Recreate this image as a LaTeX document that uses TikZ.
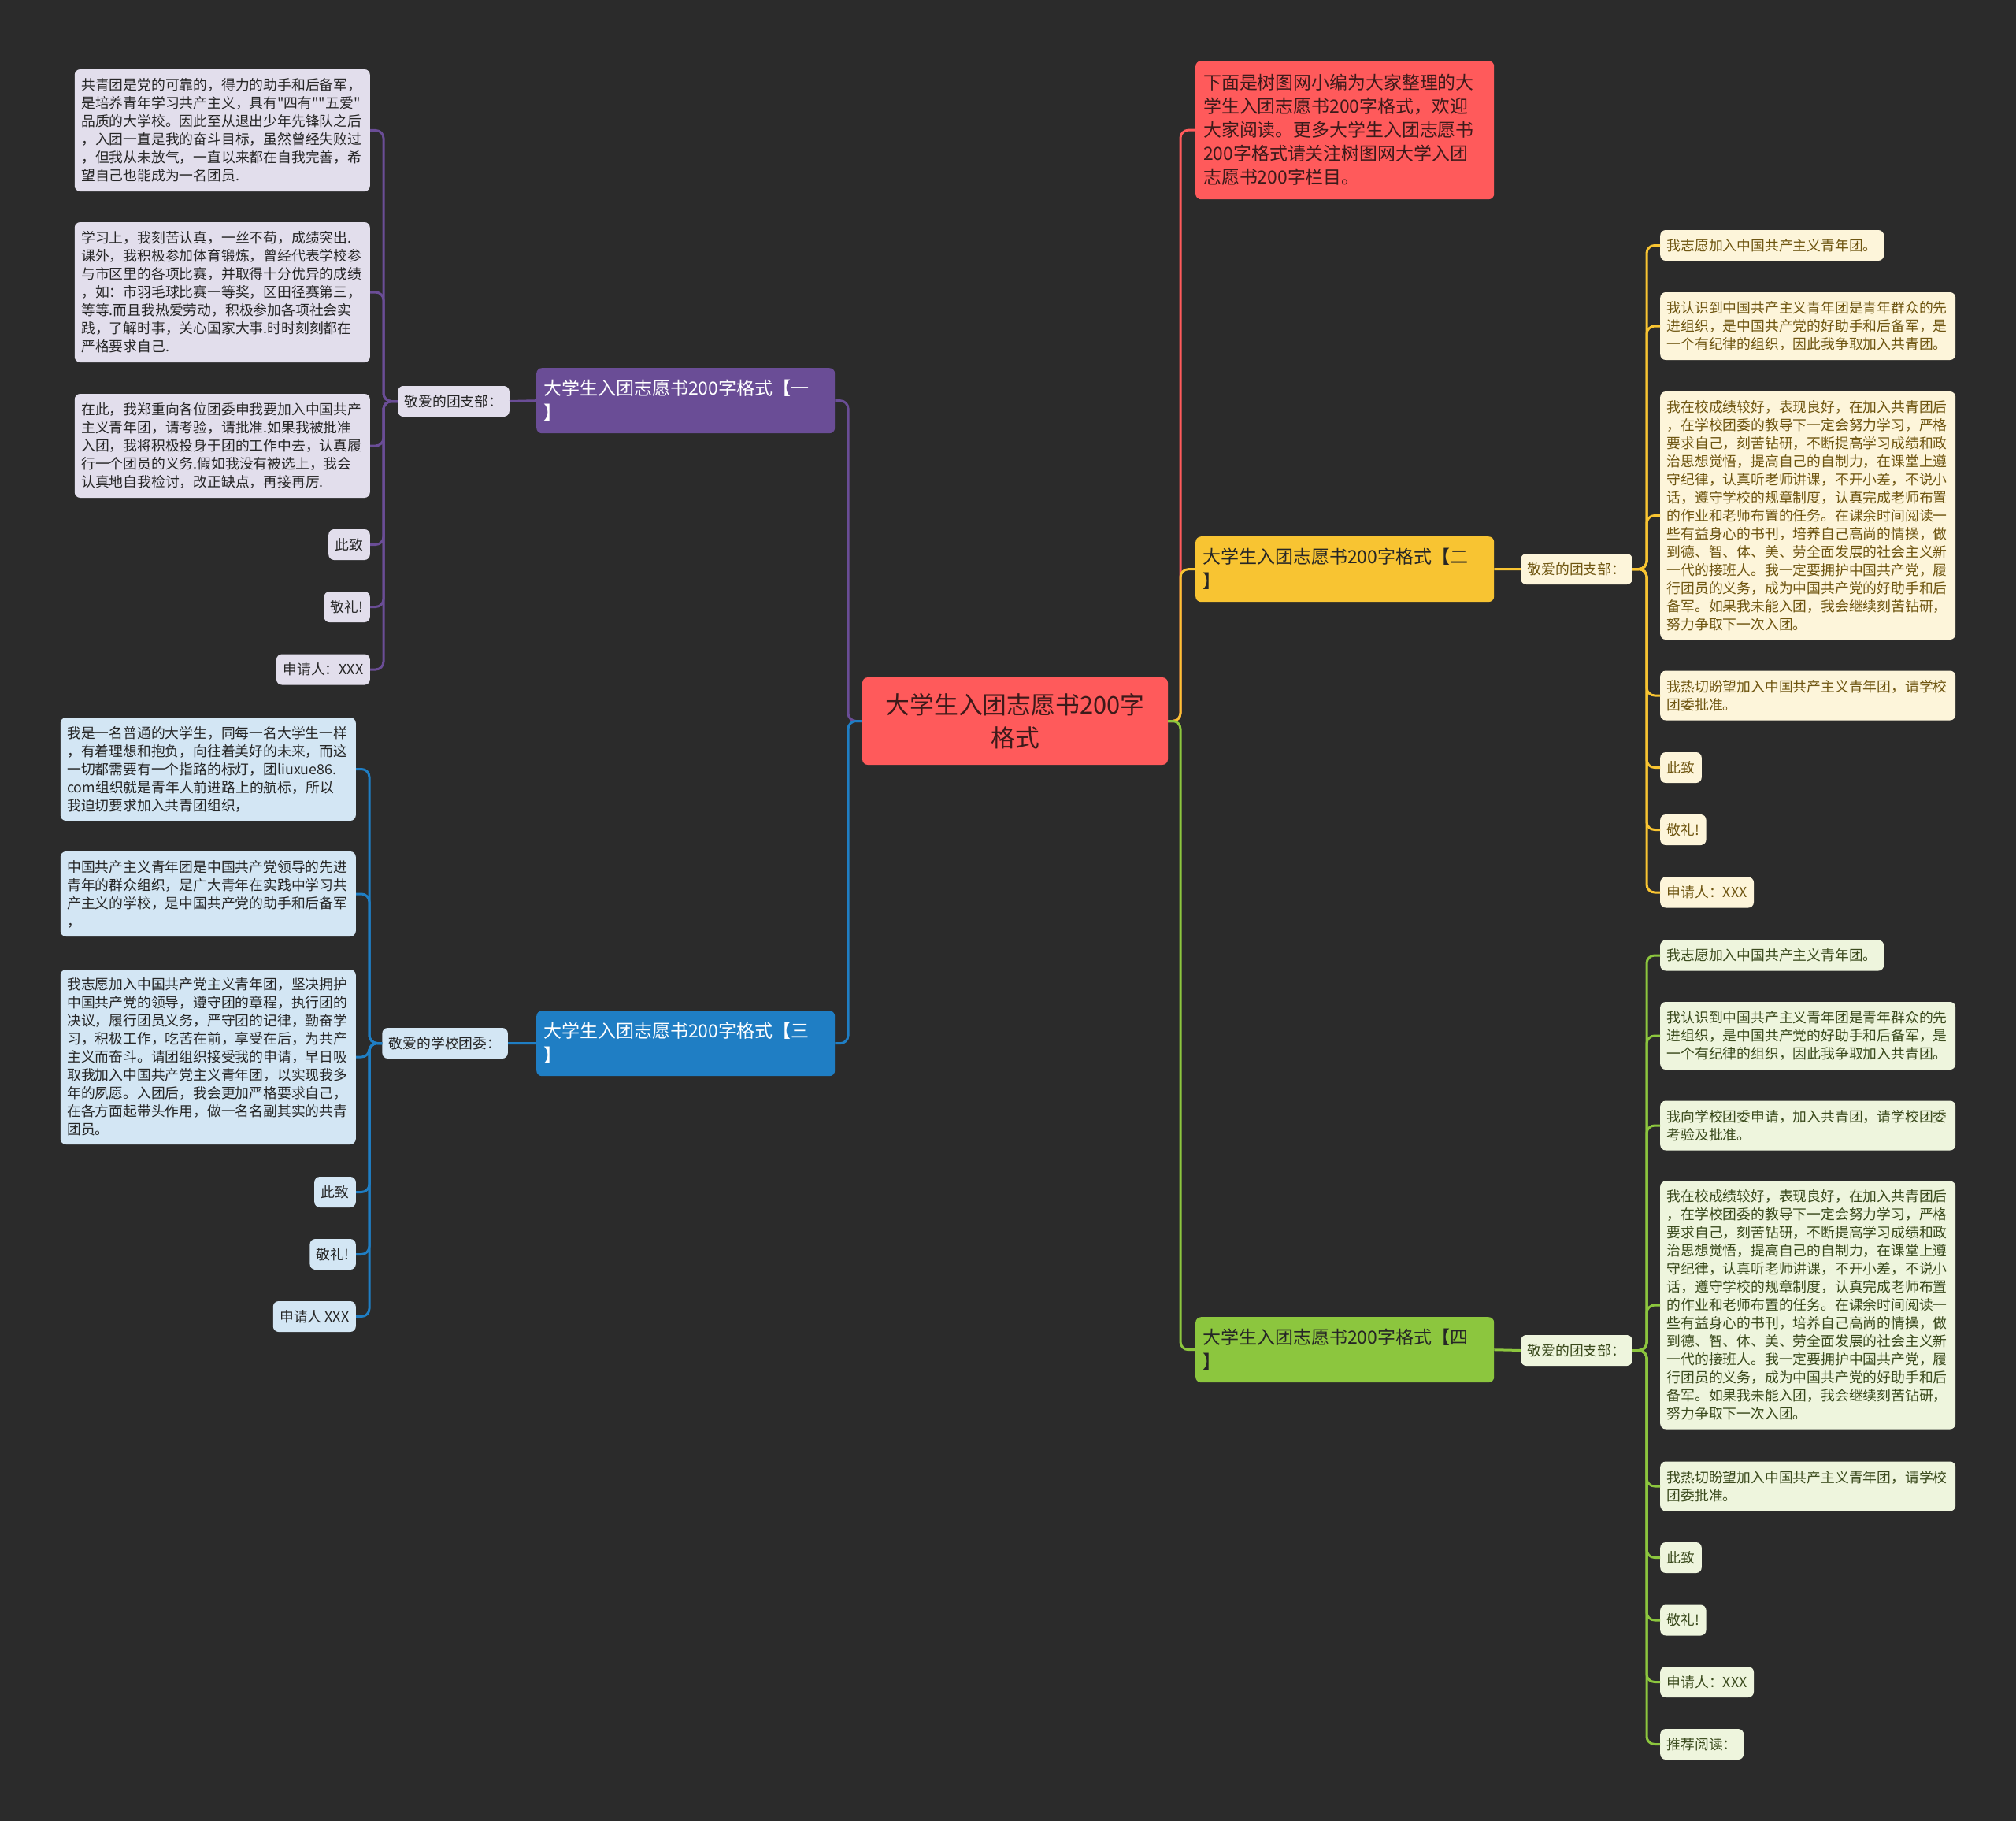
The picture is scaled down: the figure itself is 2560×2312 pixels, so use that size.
\documentclass[tikz,border=0pt]{standalone}
\usepackage{fontspec}
\setmainfont{Noto Sans CJK SC}[Ligatures=TeXOff]
\definecolor{bgc}{HTML}{2B2B2B}
\definecolor{pB}{HTML}{6A4D96}
\definecolor{pL}{HTML}{E2DEEC}
\definecolor{bB}{HTML}{1F7EC4}
\definecolor{bL}{HTML}{D3E6F4}
\definecolor{yB}{HTML}{F8C432}
\definecolor{yL}{HTML}{FDF5DA}
\definecolor{yT}{HTML}{6E5510}
\definecolor{gB}{HTML}{8CC63E}
\definecolor{gL}{HTML}{EEF5DD}
\definecolor{gT}{HTML}{3A4A1C}
\definecolor{rB}{HTML}{FF5A5B}
\definecolor{rT}{HTML}{3D1A1A}
\definecolor{dT}{HTML}{262626}
\newcommand{\leaffont}{\fontsize{17.8}{23}\selectfont}
\newcommand{\brfont}{\fontsize{23}{31}\selectfont}
\tikzset{
  box/.style={rounded corners=7pt, inner xsep=8.5pt, inner ysep=4pt, align=left, font=\leaffont, minimum height=39pt},
  pleaf/.style={box, fill=pL, text=dT},
  bleaf/.style={box, fill=bL, text=dT},
  yleaf/.style={box, fill=yL, text=yT},
  gleaf/.style={box, fill=gL, text=gT},
  wide/.style={text width=358pt},
  branch/.style={rounded corners=7pt, inner xsep=9pt, align=left, font=\brfont, text width=361pt, minimum height=83pt},
  conn/.style={line width=3pt, rounded corners=10pt},
}
\begin{document}
\begin{tikzpicture}[x=1pt,y=-1pt]
\fill[bgc] (0,0) rectangle (2560,2312);
\useasboundingbox (0,0) rectangle (2560,2312);

% centre
\node[rounded corners=7pt, fill=rB, text=rT, font=\fontsize{30.8}{41.5}\selectfont, align=center, minimum width=388pt, minimum height=111pt, inner sep=0pt] (ctr) at (1289,915.5) {大学生入团志愿书200字\\格式};

% branches
\node[branch, fill=pB, text=white, anchor=north west] (bP) at (681,467) {大学生入团志愿书200字格式【一\\】};
\node[branch, fill=bB, text=white, anchor=north west] (bBl) at (681,1283) {大学生入团志愿书200字格式【三\\】};
\node[branch, fill=yB, text=dT, anchor=north west] (bY) at (1518,681) {大学生入团志愿书200字格式【二\\】};
\node[branch, fill=gB, text=dT, anchor=north west] (bG) at (1518,1672) {大学生入团志愿书200字格式【四\\】};
\node[rounded corners=7pt, inner xsep=10pt, align=left, font=\fontsize{22.9}{30}\selectfont, text width=359pt, minimum height=176pt, fill=rB, text=rT, anchor=north west] (top) at (1518,77) {下面是树图网小编为大家整理的大\\学生入团志愿书200字格式，欢迎\\大家阅读。更多大学生入团志愿书\\200字格式请关注树图网大学入团\\志愿书200字栏目。};

% labels
\node[pleaf, anchor=east] (lP) at (647,509.5) {敬爱的团支部：};
\node[bleaf, anchor=east] (lB) at (645,1324.5) {敬爱的学校团委：};
\node[yleaf, anchor=west] (lY) at (1931,722.5) {敬爱的团支部：};
\node[gleaf, anchor=west] (lG) at (1931,1714.5) {敬爱的团支部：};

% purple leaves
\node[pleaf, wide, anchor=east, minimum height=155pt] (p1) at (470,165.5) {共青团是党的可靠的，得力的助手和后备军，\\是培养青年学习共产主义，具有"四有""五爱"\\品质的大学校。因此至从退出少年先锋队之后\\，入团一直是我的奋斗目标，虽然曾经失败过\\，但我从未放气，一直以来都在自我完善，希\\望自己也能成为一名团员.};
\node[pleaf, wide, anchor=east, minimum height=178pt] (p2) at (470,371) {学习上，我刻苦认真，一丝不苟，成绩突出.\\课外，我积极参加体育锻炼，曾经代表学校参\\与市区里的各项比赛，并取得十分优异的成绩\\，如：市羽毛球比赛一等奖，区田径赛第三，\\等等.而且我热爱劳动，积极参加各项社会实\\践，了解时事，关心国家大事.时时刻刻都在\\严格要求自己.};
\node[pleaf, wide, anchor=east, minimum height=132pt] (p3) at (470,566) {在此，我郑重向各位团委申我要加入中国共产\\主义青年团，请考验，请批准.如果我被批准\\入团，我将积极投身于团的工作中去，认真履\\行一个团员的义务.假如我没有被选上，我会\\认真地自我检讨，改正缺点，再接再厉.};
\node[pleaf, anchor=east] (p4) at (470,691.5) {此致};
\node[pleaf, anchor=east] (p5) at (470,770.5) {敬礼!};
\node[pleaf, anchor=east] (p6) at (470,850) {申请人：XXX};

% blue leaves
\node[bleaf, wide, anchor=east, minimum height=131pt] (q1) at (452,976.5) {我是一名普通的大学生，同每一名大学生一样\\，有着理想和抱负，向往着美好的未来，而这\\一切都需要有一个指路的标灯，团liuxue86.\\com组织就是青年人前进路上的航标，所以\\我迫切要求加入共青团组织，};
\node[bleaf, wide, anchor=east, minimum height=108pt] (q2) at (452,1135) {中国共产主义青年团是中国共产党领导的先进\\青年的群众组织，是广大青年在实践中学习共\\产主义的学校，是中国共产党的助手和后备军\\，};
\node[bleaf, wide, anchor=east, minimum height=222pt] (q3) at (452,1342) {我志愿加入中国共产党主义青年团，坚决拥护\\中国共产党的领导，遵守团的章程，执行团的\\决议，履行团员义务，严守团的记律，勤奋学\\习，积极工作，吃苦在前，享受在后，为共产\\主义而奋斗。请团组织接受我的申请，早日吸\\取我加入中国共产党主义青年团，以实现我多\\年的夙愿。入团后，我会更加严格要求自己，\\在各方面起带头作用，做一名名副其实的共青\\团员。};
\node[bleaf, anchor=east] (q4) at (452,1513.5) {此致};
\node[bleaf, anchor=east] (q5) at (452,1592.5) {敬礼!};
\node[bleaf, anchor=east] (q6) at (452,1671.5) {申请人 XXX};

% yellow leaves
\node[yleaf, anchor=west] (y1) at (2108,311.5) {我志愿加入中国共产主义青年团。};
\node[yleaf, wide, anchor=west, minimum height=86pt] (y2) at (2108,414) {我认识到中国共产主义青年团是青年群众的先\\进组织，是中国共产党的好助手和后备军，是\\一个有纪律的组织，因此我争取加入共青团。};
\node[yleaf, wide, anchor=west, minimum height=315pt] (y3) at (2108,654.5) {我在校成绩较好，表现良好，在加入共青团后\\，在学校团委的教导下一定会努力学习，严格\\要求自己，刻苦钻研，不断提高学习成绩和政\\治思想觉悟，提高自己的自制力，在课堂上遵\\守纪律，认真听老师讲课，不开小差，不说小\\话，遵守学校的规章制度，认真完成老师布置\\的作业和老师布置的任务。在课余时间阅读一\\些有益身心的书刊，培养自己高尚的情操，做\\到德、智、体、美、劳全面发展的社会主义新\\一代的接班人。我一定要拥护中国共产党，履\\行团员的义务，成为中国共产党的好助手和后\\备军。如果我未能入团，我会继续刻苦钻研，\\努力争取下一次入团。};
\node[yleaf, wide, anchor=west, minimum height=63pt] (y4) at (2108,883) {我热切盼望加入中国共产主义青年团，请学校\\团委批准。};
\node[yleaf, anchor=west] (y5) at (2108,974.5) {此致};
\node[yleaf, anchor=west] (y6) at (2108,1053.5) {敬礼!};
\node[yleaf, anchor=west] (y7) at (2108,1133) {申请人：XXX};

% green leaves
\node[gleaf, anchor=west] (g1) at (2108,1213) {我志愿加入中国共产主义青年团。};
\node[gleaf, wide, anchor=west, minimum height=86pt] (g2) at (2108,1315) {我认识到中国共产主义青年团是青年群众的先\\进组织，是中国共产党的好助手和后备军，是\\一个有纪律的组织，因此我争取加入共青团。};
\node[gleaf, wide, anchor=west, minimum height=63pt] (g3) at (2108,1429) {我向学校团委申请，加入共青团，请学校团委\\考验及批准。};
\node[gleaf, wide, anchor=west, minimum height=315pt] (g4) at (2108,1657) {我在校成绩较好，表现良好，在加入共青团后\\，在学校团委的教导下一定会努力学习，严格\\要求自己，刻苦钻研，不断提高学习成绩和政\\治思想觉悟，提高自己的自制力，在课堂上遵\\守纪律，认真听老师讲课，不开小差，不说小\\话，遵守学校的规章制度，认真完成老师布置\\的作业和老师布置的任务。在课余时间阅读一\\些有益身心的书刊，培养自己高尚的情操，做\\到德、智、体、美、劳全面发展的社会主义新\\一代的接班人。我一定要拥护中国共产党，履\\行团员的义务，成为中国共产党的好助手和后\\备军。如果我未能入团，我会继续刻苦钻研，\\努力争取下一次入团。};
\node[gleaf, wide, anchor=west, minimum height=63pt] (g5) at (2108,1887) {我热切盼望加入中国共产主义青年团，请学校\\团委批准。};
\node[gleaf, anchor=west] (g6) at (2108,1977.5) {此致};
\node[gleaf, anchor=west] (g7) at (2108,2057) {敬礼!};
\node[gleaf, anchor=west] (g8) at (2108,2135.5) {申请人：XXX};
\node[gleaf, anchor=west] (g9) at (2108,2214.5) {推荐阅读：};

% connectors: centre to branches
\draw[conn, pB] (ctr.west) -- (1077,915.5) |- (bP.east);
\draw[conn, bB] (ctr.west) -- (1077,915.5) |- (bBl.east);
\draw[conn, rB] (ctr.east) -- (1499,915.5) |- (top.west);
\draw[conn, yB] (ctr.east) -- (1499,915.5) |- (bY.west);
\draw[conn, gB] (ctr.east) -- (1499,915.5) |- (bG.west);

% branches to labels
\draw[conn, pB] (bP.west) -- (lP.east);
\draw[conn, bB] (bBl.west) -- (lB.east);
\draw[conn, yB] (bY.east) -- (lY.west);
\draw[conn, gB] (bG.east) -- (lG.west);

% labels to leaves
\foreach \n in {p1,p2,p3,p4,p5,p6}
  \draw[conn, pB] (lP.west) -- (487,509.5) |- (\n.east);
\foreach \n in {q1,q2,q3,q4,q5,q6}
  \draw[conn, bB] (lB.west) -- (469,1324.5) |- (\n.east);
\foreach \n in {y1,y2,y3,y4,y5,y6,y7}
  \draw[conn, yB] (lY.east) -- (2091,722.5) |- (\n.west);
\foreach \n in {g1,g2,g3,g4,g5,g6,g7,g8,g9}
  \draw[conn, gB] (lG.east) -- (2091,1714.5) |- (\n.west);
\end{tikzpicture}
\end{document}
